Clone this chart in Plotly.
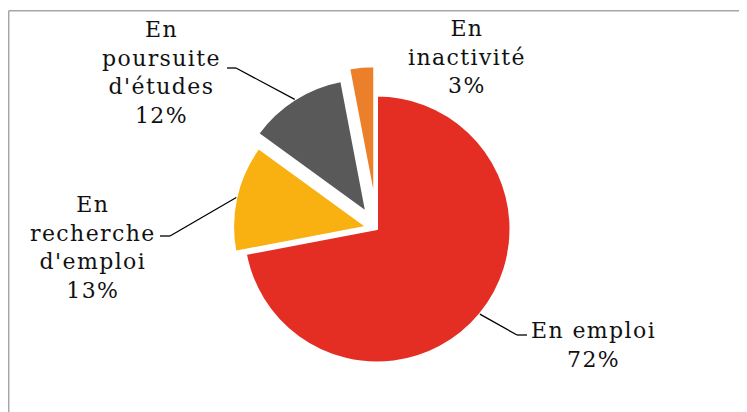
import math
import plotly.graph_objects as go

# ---- data ----
labels = ["En emploi", "En recherche d'emploi", "En poursuite d'études", "En inactivité"]
label_lines = [["En emploi"], ["En", "recherche", "d'emploi"], ["En", "poursuite", "d'études"], ["En", "inactivité"]]
values = [72, 13, 12, 3]
colors = ["#E42E23", "#F9B112", "#595959", "#EB7F2A"]
pulls = [0.0, 0.08, 0.15, 0.22]

# ---- layout constants (window pixels) ----
WIN_W, WIN_H = 747, 412
OFF = 8  # default page body margin
W, H = WIN_W - OFF, WIN_H - OFF
CX, CY, R = 377, 229, 133.5
FONT = "DejaVu Serif"
FS = 22


def px2paper(x, y):
    return (x - OFF) / W, 1 - (y - OFF) / H


maxpull = max(pulls)
box = 2 * R * (1 + maxpull)
dom_y = [1 - (CY - OFF + box / 2) / H, 1 - (CY - OFF - box / 2) / H]
dom_x = [(CX - OFF - 250) / W, (CX - OFF + 250) / W]

fig = go.Figure(go.Pie(
    labels=labels,
    values=values,
    sort=False,
    direction="clockwise",
    rotation=0,
    pull=pulls,
    marker=dict(colors=colors, line=dict(color="white", width=2)),
    textinfo="none",
    hoverinfo="label+percent",
    domain=dict(x=dom_x, y=dom_y),
    showlegend=False,
))

total = sum(values)
pct = [round(v / total * 100) for v in values]

# label placements (pixel centres of text blocks) and leader-line elbows
label_pos = [(593, 345), (93, 247), (161, 72), (467, 57)]
elbows = [  # (horizontal start x, elbow x, y) or None
    (527, 517, 335),
    (160, 170, 236),
    (227, 236, 68),
    None,
]

annotations = []
shapes = []
cum = 0
for i, v in enumerate(values):
    mid = (cum + v / 2) / total * 2 * math.pi
    cum += v
    text = "<br>".join(label_lines[i] + [f"{pct[i]}%"])
    x, y = px2paper(*label_pos[i])
    annotations.append(dict(
        x=x, y=y, xref="paper", yref="paper", xanchor="center", yanchor="middle",
        text=f'<span style="letter-spacing:1.4px">{text}</span>', showarrow=False,
        font=dict(family=FONT, size=FS, color="#111111"), align="center",
    ))
    if elbows[i] is not None:
        rr = R * (1 + pulls[i])
        ex = CX + rr * math.sin(mid)
        ey = CY - rr * math.cos(mid)
        hx0, hx1, hy = elbows[i]
        for (ax, ay, bx, by) in [(hx0, hy, hx1, hy), (hx1, hy, ex, ey)]:
            p0 = px2paper(ax, ay)
            p1 = px2paper(bx, by)
            shapes.append(dict(type="line", xref="paper", yref="paper",
                               x0=p0[0], y0=p0[1], x1=p1[0], y1=p1[1],
                               line=dict(color="#000000", width=1.3)))

# chart-area frame (left and top edges visible)
fl, ft = px2paper(8.7, 10.7)
shapes.append(dict(type="line", xref="paper", yref="paper", x0=fl, y0=ft, x1=1.0, y1=ft,
                   line=dict(color="#A6A6A6", width=1.5)))
shapes.append(dict(type="line", xref="paper", yref="paper", x0=fl, y0=ft, x1=fl, y1=0.0,
                   line=dict(color="#A6A6A6", width=1.5)))

fig.update_layout(
    width=W, height=H,
    margin=dict(l=0, r=0, t=0, b=0),
    paper_bgcolor="white",
    plot_bgcolor="white",
    annotations=annotations,
    shapes=shapes,
)

fig.write_html("out.html")
